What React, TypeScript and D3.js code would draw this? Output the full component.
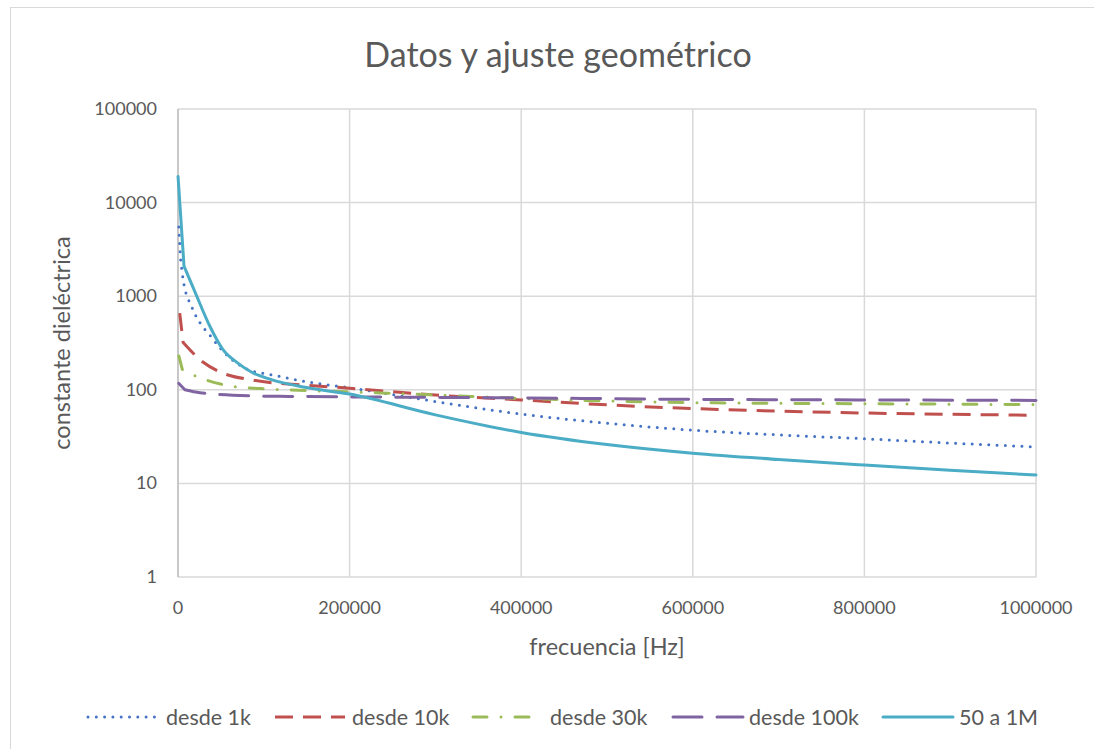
import React from "react";
import * as d3 from "d3";

const xTicks = [0, 200000, 400000, 600000, 800000, 1000000];
const yTicks = [1, 10, 100, 1000, 10000, 100000];

const freqDesde1k = [1000, 3000, 6000, 16000, 25000, 37000, 49000, 63000, 87000, 100000, 150000, 200000, 300000, 400000, 500000, 600000, 700000, 800000, 900000, 1000000];
const valDesde1k = [5500, 2500, 1500, 770, 530, 385, 280, 210, 158, 150, 122, 105, 75, 55, 44, 37, 33, 30, 27, 24.5];

const freqDesde10k = [2000, 6000, 29000, 49000, 87000, 150000, 200000, 300000, 400000, 500000, 600000, 800000, 1000000];
const valDesde10k = [660, 320, 198, 155, 127, 112, 104, 88, 78, 69, 63, 56.5, 53.5];

const freqDesde30k = [1000, 5000, 21000, 69000, 96000, 200000, 300000, 400000, 500000, 600000, 800000, 1000000];
const valDesde30k = [230, 165, 140, 107, 103, 95, 88, 81, 76, 73, 71, 69.5];

const freqDesde100k = [1000, 8000, 25600, 87000, 130000, 200000, 400000, 600000, 800000, 1000000];
const valDesde100k = [117, 100, 93, 86, 85, 84, 82, 79, 78, 77];

const freq50a1M = [50, 7000, 20000, 37000, 52000, 69000, 87000, 107000, 146000, 200000, 300000, 400000, 500000, 600000, 700000, 800000, 900000, 1000000];
const val50a1M = [19000, 2100, 1100, 480, 272, 195, 152, 130, 107, 90, 54, 35, 26, 21, 18, 15.7, 13.8, 12.3];

const seriesNames = ["desde 1k", "desde 10k", "desde 30k", "desde 100k", "50 a 1M"];
const seriesColors = ["#4472C4", "#C0504D", "#9BBB59", "#8064A2", "#4BACC6"];

const FONT = "Lato, 'Open Sans', sans-serif";
const TEXT = "#595959";

export default function App() {
  const W = 1094, H = 749;
  const x0 = 178, x1 = 1036, y0 = 109, y1 = 577;
  const x = d3.scaleLinear().domain([0, 1000000]).range([x0, x1]);
  const y = d3.scaleLog().domain([1, 100000]).range([y1, y0]);

  const series = [
    { f: freqDesde1k, v: valDesde1k, dash: "0 8.3", cap: "round", w: 3 },
    { f: freqDesde10k, v: valDesde10k, dash: "18 10", cap: "butt", w: 3 },
    { f: freqDesde30k, v: valDesde30k, dash: "14 14 0 14", cap: "round", w: 3 },
    { f: freqDesde100k, v: valDesde100k, dash: "29 15", cap: "round", w: 3 },
    { f: freq50a1M, v: val50a1M, dash: "none", cap: "round", w: 3 },
  ];

  const smooth = d3
    .line<[number, number]>()
    .x((d) => x(d[0]))
    .y((d) => y(d[1]))
    .curve(d3.curveMonotoneX);

  const pathFor = (f: number[], v: number[]) => {
    const pts = f.map((ff, j) => [ff, v[j]] as [number, number]);
    const rest = smooth(pts.slice(1)) || "";
    // straight first (near-vertical) segment, then smooth curve
    return `M${x(pts[0][0])},${y(pts[0][1])}L${rest.slice(1)}`;
  };

  const legendItems = [
    { lx: 88, tx: 166 },
    { lx: 275, tx: 352 },
    { lx: 473, tx: 550 },
    { lx: 673, tx: 749 },
    { lx: 883, tx: 959 },
  ];

  return (
    <svg width={W} height={H} style={{ position: "absolute", left: 0, top: 0, background: "#fff" }}>
      <rect x={10.5} y={7.5} width={W} height={H} fill="#fff" stroke="#d9d9d9" strokeWidth={1} />
      <text x={558} y={67} textAnchor="middle" fontFamily={FONT} fontSize={34} fill={TEXT}>
        Datos y ajuste geométrico
      </text>
      {yTicks.map((t) => (
        <g key={"y" + t}>
          <line x1={x0} x2={x1} y1={y(t)} y2={y(t)} stroke="#d9d9d9" strokeWidth={1.5} />
          <text x={157} y={y(t) + 6} textAnchor="end" fontFamily={FONT} fontSize={18} fill={TEXT}>
            {t}
          </text>
        </g>
      ))}
      {xTicks.map((t) => (
        <g key={"x" + t}>
          <line x1={x(t)} x2={x(t)} y1={y0} y2={y1} stroke="#d9d9d9" strokeWidth={1.5} />
          <text x={x(t)} y={614} textAnchor="middle" fontFamily={FONT} fontSize={18} fill={TEXT}>
            {t}
          </text>
        </g>
      ))}
      <line x1={x0} x2={x0} y1={y0} y2={y1} stroke="#bfbfbf" strokeWidth={1.5} />
      <text x={607} y={655} textAnchor="middle" fontFamily={FONT} fontSize={23.5} fill={TEXT}>
        frecuencia [Hz]
      </text>
      <text
        transform={`translate(70,343) rotate(-90)`}
        textAnchor="middle"
        fontFamily={FONT}
        fontSize={23.5}
        fill={TEXT}
      >
        constante dieléctrica
      </text>
      <g>
        {series.map((s, i) => (
          <path
            key={"s" + i}
            d={pathFor(s.f, s.v)}
            fill="none"
            stroke={seriesColors[i]}
            strokeWidth={s.w}
            strokeDasharray={s.dash}
            strokeLinecap={s.cap as any}
            strokeLinejoin="round"
          />
        ))}
      </g>
      {legendItems.map((l, i) => (
        <g key={"l" + i}>
          <line
            x1={l.lx}
            x2={l.lx + 70}
            y1={717}
            y2={717}
            stroke={seriesColors[i]}
            strokeWidth={series[i].w}
            strokeDasharray={series[i].dash}
            strokeLinecap={series[i].cap as any}
          />
          <text x={l.tx} y={725} fontFamily={FONT} fontSize={21.5} fill={TEXT}>
            {seriesNames[i]}
          </text>
        </g>
      ))}
    </svg>
  );
}
